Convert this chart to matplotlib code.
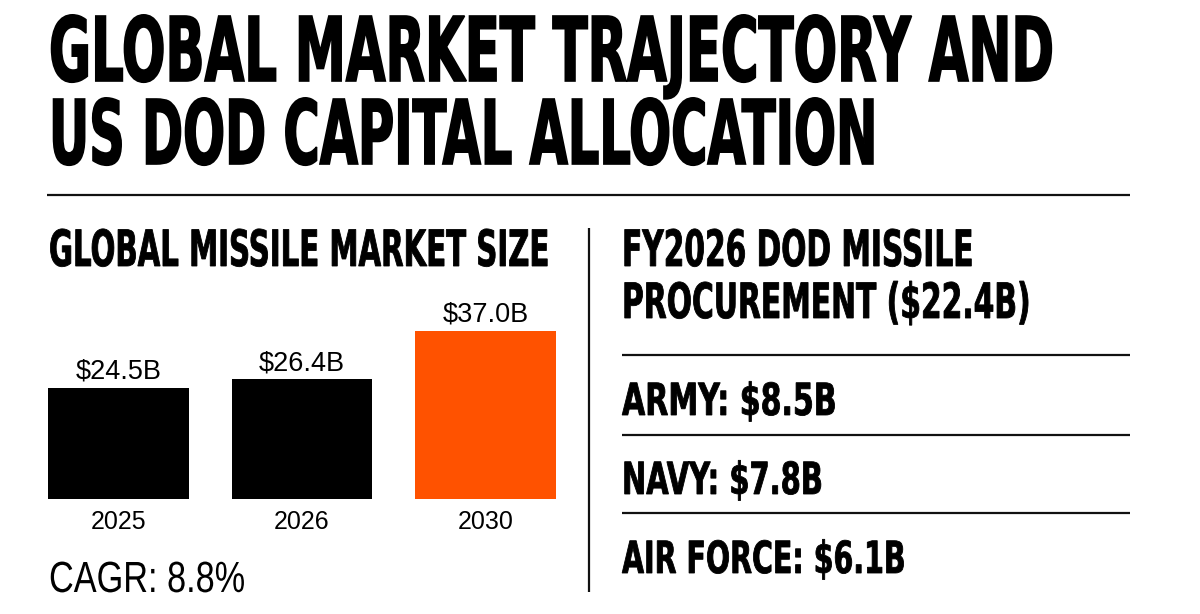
import matplotlib
matplotlib.use("Agg")
import matplotlib.pyplot as plt
from matplotlib.patheffects import AbstractPathEffect
from matplotlib.textpath import TextPath
from matplotlib.transforms import Affine2D

# data
years = ["2025", "2026", "2030"]
market_size = [24.5, 26.4, 37.0]
cagr = 8.8
branches = ["ARMY", "NAVY", "AIR FORCE"]
branch_budget = [8.5, 7.8, 6.1]
dod_total = 22.4

HEAD = "DejaVu Sans"
BODY = "Liberation Sans"
ORANGE = "#FF5200"
W, H = 1200, 614


class Tall(AbstractPathEffect):
    """stretch glyphs upward from the baseline (fakes a condensed face)"""
    def __init__(self, sy, lw=0.0):
        super().__init__()
        self.sy = sy
        self.lw = lw

    def draw_path(self, renderer, gc, tpath, affine, rgbFace=None):
        gc0 = renderer.new_gc()
        gc0.copy_properties(gc)
        gc0.set_linewidth(self.lw)
        gc0.set_joinstyle("miter")
        renderer.draw_path(gc0, tpath, Affine2D().scale(1, self.sy) + affine, rgbFace)
        gc0.restore()


fig = plt.figure(figsize=(W / 100, H / 100), dpi=100, facecolor="white")

# bar chart, placed in pixel units: baseline y=499, bars span x 48..556
px_per_unit = 4.54
ymax = 40
bw = 0.768
ax_top = 499 - ymax * px_per_unit
ax = fig.add_axes([48 / W, 1 - 499 / H, (556 - 48) / W, (499 - ax_top) / H])
x = list(range(len(years)))
colors = ["black", "black", ORANGE]
ax.bar(x, market_size, width=bw, color=colors)
ax.set_xlim(-bw / 2, len(years) - 1 + bw / 2)
ax.set_ylim(0, ymax)
for xi, v in zip(x, market_size):
    ax.annotate(f"${v:.1f}B", (xi, v), xytext=(0, 6.5), textcoords="offset points",
                ha="center", va="baseline", fontsize=19.5, family=BODY, color="black")
ax.set_xticks(x, years)
ax.tick_params(axis="x", length=0, pad=8, labelsize=18)
for lab in ax.get_xticklabels():
    lab.set_family(BODY)
ax.set_yticks([])
for s in ax.spines.values():
    s.set_visible(False)
ax.patch.set_alpha(0)

# overlay in pixel coordinates for headings and rules
ov = fig.add_axes([0, 0, 1, 1])
ov.set_xlim(0, W)
ov.set_ylim(H, 0)
ov.axis("off")
ov.patch.set_alpha(0)

# (text, left, baseline, right, cap height px, weight, stroke)
headings = [
    ("GLOBAL MARKET TRAJECTORY AND", 49, 81, 1052, 65, "bold", 1.2),
    ("US DOD CAPITAL ALLOCATION", 49, 164, 875, 65, "bold", 1.2),
    ("GLOBAL MISSILE MARKET SIZE", 49, 266, 548, 36.5, "bold", 0.6),
    ("FY2026 DOD MISSILE", 622, 266, 973, 36.5, "bold", 0.6),
    (f"PROCUREMENT (${dod_total:.1f}B)", 622, 318, 1030, 35.5, "bold", 0.6),
]
for name, val, base, right in zip(branches, branch_budget, [415, 494, 573], [837, 823, 905]):
    headings.append((f"{name}: ${val:.1f}B", 622, base, right, 32.3, "bold", 0.6))
headings.append((f"CAGR: {cagr}%", 49, 592, 245, 30, "normal", 0.0))

texts = []
for s, left, base, right, cap, weight, lw in headings:
    t = ov.text(left, base, s, ha="left", va="baseline", fontsize=20,
                family=HEAD if weight == "bold" else BODY, fontweight=weight,
                color="black")
    texts.append((t, left, right, cap, lw))

# rules
ov.plot([47, 1130], [195, 195], color="#111111", lw=1.6, solid_capstyle="butt")
ov.plot([589, 589], [228, 592], color="#111111", lw=1.6, solid_capstyle="butt")
for y in [355, 435, 513]:
    ov.plot([622, 1130], [y, y], color="#111111", lw=1.6, solid_capstyle="butt")

# size each heading to its width, then stretch it up to the wanted cap height
fig.canvas.draw()
r = fig.canvas.get_renderer()
for t, left, right, cap, lw in texts:
    w = t.get_window_extent(r).width
    t.set_fontsize(20 * (right - left) / w)
    hcap = TextPath((0, 0), "H", size=t.get_fontsize(),
                    prop=t.get_fontproperties()).get_extents().height * fig.dpi / 72
    t.set_path_effects([Tall(cap / hcap, lw)])

fig.savefig("out.png", dpi=100, facecolor="white")
